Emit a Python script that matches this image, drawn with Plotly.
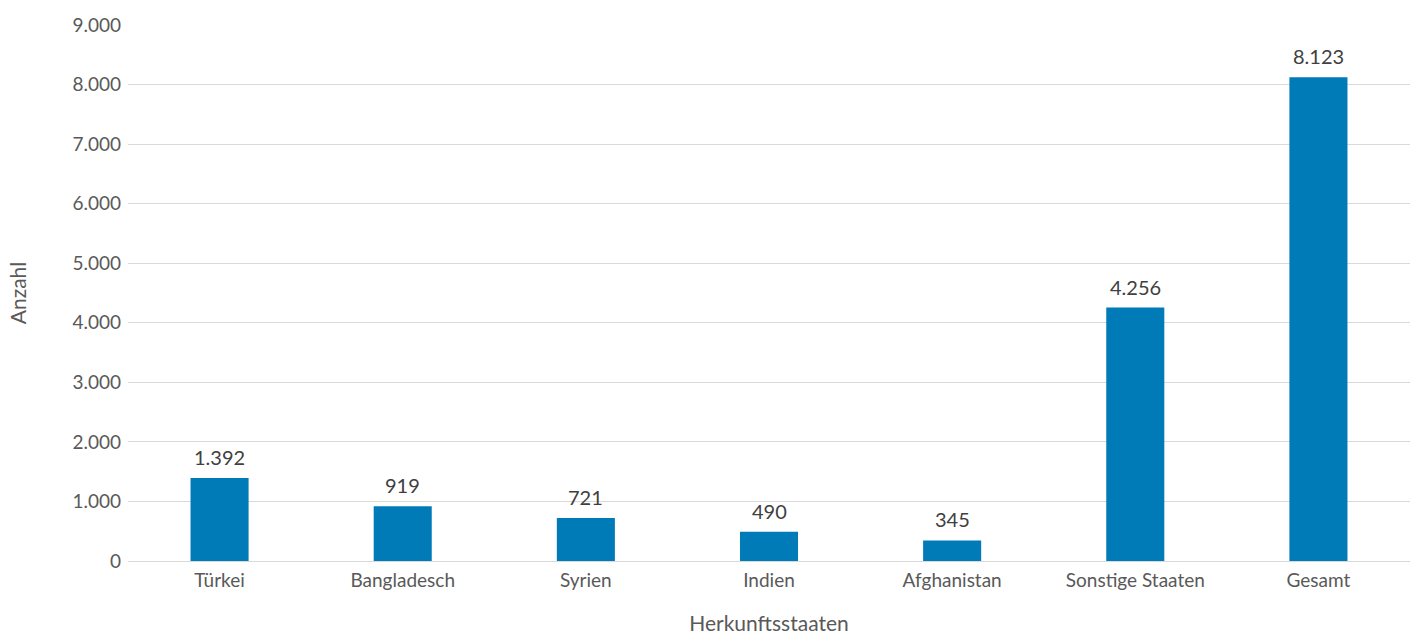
import plotly.graph_objects as go

# Herkunftsstaaten und Anzahl
categories = ["Türkei", "Bangladesch", "Syrien", "Indien", "Afghanistan", "Sonstige Staaten", "Gesamt"]
values = [1392, 919, 721, 490, 345, 4256, 8123]
y_ticks = [0, 1000, 2000, 3000, 4000, 5000, 6000, 7000, 8000, 9000]

bar_color = "#007bb8"
font_family = "Lato, 'Open Sans', sans-serif"

fig = go.Figure(
    go.Bar(
        x=categories,
        y=values,
        marker=dict(color=bar_color, line=dict(width=0)),
        hovertemplate="%{x}: %{y:,d}<extra></extra>",
    )
)

# value labels above each bar
for cat, val in zip(categories, values):
    fig.add_annotation(
        x=cat, y=val, text=f"{val:,}".replace(",", "."),
        showarrow=False, yanchor="bottom", yshift=7,
        font=dict(family=font_family, size=20, color="#404040"),
    )

fig.update_layout(
    width=1414, height=635,
    margin=dict(l=128, r=4, t=25, b=74),
    paper_bgcolor="white", plot_bgcolor="white",
    separators=",.",
    bargap=0.683,
    showlegend=False,
    font=dict(family=font_family, size=19, color="#595959"),
)

fig.update_xaxes(
    title=dict(text="Herkunftsstaaten", font=dict(size=21, color="#595959"), standoff=37),
    automargin=False,
    showgrid=False, showline=False, zeroline=False,
    ticks="", ticklabelstandoff=6, tickfont=dict(size=19, color="#595959"),
)
fig.update_yaxes(
    title=dict(text="Anzahl", font=dict(size=21, color="#595959"), standoff=40),
    automargin=False,
    range=[0, 9000], tickvals=y_ticks, tickformat=",d",
    showgrid=True, gridcolor="#d9d9d9", gridwidth=1,
    zeroline=True, zerolinecolor="#d9d9d9", zerolinewidth=1,
    showline=False, ticks="", ticklen=0, ticklabelstandoff=6,
    tickfont=dict(size=19, color="#595959"),
)

fig.write_html("out.html")
